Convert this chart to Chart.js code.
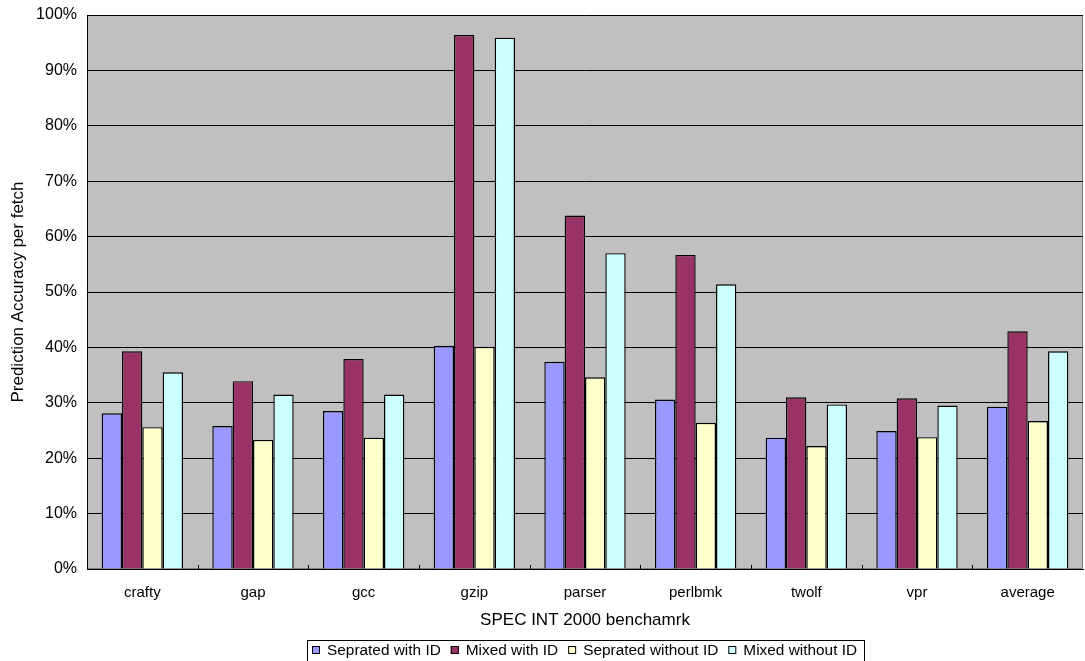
<!DOCTYPE html>
<html>
<head>
<meta charset="utf-8">
<script src="https://cdn.jsdelivr.net/npm/chart.js@4/dist/chart.umd.min.js"></script>
<style>
  html, body { margin: 0; padding: 0; background: #ffffff; }
  #wrap { width: 1085px; height: 661px; position: relative; }
</style>
</head>
<body>
<div id="wrap"><canvas id="c" width="1085" height="661"></canvas></div>
<script>
// Benchmarks on the category axis
const categories = ['crafty', 'gap', 'gcc', 'gzip', 'parser', 'perlbmk', 'twolf', 'vpr', 'average'];

// Prediction accuracy per fetch, in percent
const sepratedWithId    = [28.1, 25.8, 28.5, 40.3, 37.4, 30.6, 23.7, 24.9, 29.3];
const mixedWithId       = [39.3, 33.9, 37.9, 96.4, 63.8, 56.7, 31.0, 30.8, 42.9];
const sepratedWithoutId = [25.6, 23.3, 23.7, 40.1, 34.6, 26.4, 22.2, 23.8, 26.7];
const mixedWithoutId    = [35.5, 31.5, 31.5, 95.9, 57.0, 51.4, 29.7, 29.5, 39.3];

const seriesNames = ['Seprated with ID', 'Mixed with ID', 'Seprated without ID', 'Mixed without ID'];
const seriesColors = ['#9999FF', '#993366', '#FFFFCC', '#CCFFFF'];

// Value axis ticks: 0% .. 100% every 10%
const yTickValues = [0, 10, 20, 30, 40, 50, 60, 70, 80, 90, 100];

const FONT = '"Liberation Sans", Arial, sans-serif';

// Grey plot area with a thin grey frame
const plotBackground = {
  id: 'plotBackground',
  beforeDraw(chart) {
    const { ctx, chartArea: a } = chart;
    ctx.save();
    ctx.fillStyle = '#C0C0C0';
    ctx.fillRect(a.left, a.top, a.right - a.left, a.bottom - a.top);
    ctx.strokeStyle = '#808080';
    ctx.lineWidth = 1;
    ctx.strokeRect(a.left + 0.5, a.top + 0.5, a.right - a.left - 1, a.bottom - a.top - 1);
    ctx.restore();
  }
};

// Short inward tick marks between categories on the x axis
const categoryTicks = {
  id: 'categoryTicks',
  afterDatasetsDraw(chart) {
    const { ctx, chartArea: a } = chart;
    const xs = chart.scales.x;
    ctx.save();
    ctx.strokeStyle = '#000';
    ctx.lineWidth = 1;
    for (let i = 0; i < categories.length - 1; i++) {
      const px = Math.round((xs.getPixelForValue(i) + xs.getPixelForValue(i + 1)) / 2) + 0.5;
      ctx.beginPath();
      ctx.moveTo(px, a.bottom - 4);
      ctx.lineTo(px, a.bottom);
      ctx.stroke();
    }
    ctx.restore();
  }
};

// Boxed legend row beneath the axis title
const boxedLegend = {
  id: 'boxedLegend',
  afterDraw(chart) {
    const { ctx, chartArea: a } = chart;
    const datasets = chart.data.datasets;
    ctx.save();
    ctx.font = '15.4px ' + FONT;
    const sq = 8, gapText = 7, gapItem = 10, padL = 5, padR = 7;
    const widths = datasets.map(d => ctx.measureText(d.label).width);
    let total = padL + padR;
    widths.forEach((w, i) => { total += sq + gapText + w + (i < widths.length - 1 ? gapItem : 0); });
    const cx = (a.left + a.right) / 2 + 1;
    const left = Math.round(cx - total / 2);
    const top = 640;
    ctx.fillStyle = '#fff';
    ctx.fillRect(left, top, total, 30);
    ctx.strokeStyle = '#000';
    ctx.lineWidth = 1;
    ctx.strokeRect(left + 0.5, top + 0.5, Math.round(total), 30);
    const cy = 650;
    let x = left + padL;
    ctx.textBaseline = 'middle';
    ctx.textAlign = 'left';
    datasets.forEach((d, i) => {
      ctx.fillStyle = d.backgroundColor;
      ctx.fillRect(x, cy - 4, sq, sq);
      ctx.strokeStyle = '#000';
      ctx.strokeRect(x + 0.5, cy - 4 + 0.5, sq - 1, sq - 1);
      x += sq + gapText;
      ctx.fillStyle = '#000';
      ctx.fillText(d.label, x, cy + 1);
      x += widths[i] + gapItem;
    });
    ctx.restore();
  }
};

const seriesValues = [sepratedWithId, mixedWithId, sepratedWithoutId, mixedWithoutId];

new Chart(document.getElementById('c'), {
  type: 'bar',
  data: {
    labels: categories,
    datasets: seriesValues.map((vals, i) => ({
      label: seriesNames[i],
      data: vals,
      backgroundColor: seriesColors[i],
      borderColor: '#000000',
      borderWidth: 1.4,
      borderSkipped: 'bottom',
      categoryPercentage: 0.735,
      barPercentage: 1.0
    }))
  },
  options: {
    responsive: false,
    animation: false,
    devicePixelRatio: 1,
    layout: { padding: { top: 15, right: 2, bottom: 28, left: 0 } },
    plugins: {
      legend: { display: false },
      tooltip: { enabled: false }
    },
    scales: {
      x: {
        grid: { display: false, drawTicks: false },
        border: { display: true, color: '#000', width: 1 },
        ticks: {
          color: '#000',
          font: { family: FONT, size: 15 },
          padding: 15,
          maxRotation: 0,
          autoSkip: false
        },
        title: {
          display: true,
          text: 'SPEC INT 2000 benchamrk',
          color: '#000',
          font: { family: FONT, size: 17 },
          padding: { top: 0, bottom: 2 }
        },
        afterFit(scale) { scale.height = 64; scale.paddingLeft = 0; scale.paddingRight = 0; }
      },
      y: {
        min: 0,
        max: 100,
        grid: { color: '#000', lineWidth: 1, drawTicks: false },
        border: { display: true, color: '#000', width: 1 },
        afterBuildTicks(scale) { scale.ticks = yTickValues.map(v => ({ value: v })); },
        ticks: {
          color: '#000',
          font: { family: FONT, size: 16 },
          padding: 10,
          callback: v => v + '%'
        },
        title: {
          display: true,
          text: 'Prediction Accuracy per fetch',
          color: '#000',
          font: { family: FONT, size: 17 },
          padding: { top: 8, bottom: 0 }
        },
        afterFit(scale) { scale.width = 87; scale.paddingTop = 0; scale.paddingBottom = 0; }
      }
    }
  },
  plugins: [plotBackground, categoryTicks, boxedLegend]
});
</script>
</body>
</html>
